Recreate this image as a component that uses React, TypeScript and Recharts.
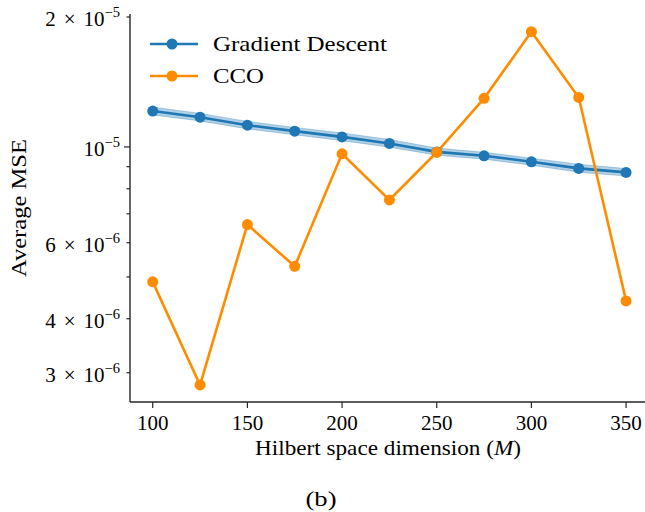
import { ComposedChart, Line, Area, XAxis, YAxis, Label } from "recharts";

// Hilbert space dimension M
const dims = [100, 125, 150, 175, 200, 225, 250, 275, 300, 325, 350];
// Gradient descent mean + shaded band
const gdMse = [1.211e-5, 1.172e-5, 1.123e-5, 1.088e-5, 1.055e-5, 1.019e-5, 0.974e-5, 0.954e-5, 0.924e-5, 0.892e-5, 0.873e-5];
const gdLow = [1.186e-5, 1.149e-5, 1.101e-5, 1.067e-5, 1.034e-5, 0.999e-5, 0.957e-5, 0.937e-5, 0.907e-5, 0.874e-5, 0.856e-5];
const gdHigh = [1.237e-5, 1.196e-5, 1.146e-5, 1.110e-5, 1.077e-5, 1.041e-5, 0.994e-5, 0.972e-5, 0.942e-5, 0.912e-5, 0.891e-5];
// CCO
const ccoMse = [4.87e-6, 2.81e-6, 6.61e-6, 5.29e-6, 9.64e-6, 7.54e-6, 9.72e-6, 1.296e-5, 1.849e-5, 1.302e-5, 4.40e-6];

const xTicks = [100, 150, 200, 250, 300, 350];
const yTicks = [3e-6, 4e-6, 5e-6, 6e-6, 7e-6, 8e-6, 9e-6, 1e-5, 2e-5];
// mantissa / exponent for the labelled ticks ("" = unlabelled minor tick)
const yTickMant = ["3", "4", "", "6", "", "", "", "1", "2"];
const yTickExp = ["−6", "−6", "", "−6", "", "", "", "−5", "−5"];

const data = dims.map((d, i) => ({ dim: d, gd: gdMse[i], band: [gdLow[i], gdHigh[i]], cco: ccoMse[i] }));

const FONT = '"Liberation Serif", "Times New Roman", serif';
const BLUE = "#1f77b4";
const ORANGE = "#ff8c00";
const AX = "#262626";
const LEFT = 130;
const BOTTOM = 402;

const YTick = ({ y, index }: any) => {
  const mant = yTickMant[index];
  const exp = yTickExp[index];
  const isMajor = yTicks[index] === 1e-5;
  return (
    <g>
      <line x1={LEFT - (isMajor ? 6 : 3.5)} x2={LEFT} y1={y} y2={y} stroke={AX} strokeWidth={1.2} />
      {exp && (
        <text x={120} y={y + 9} textAnchor="end" fontFamily={FONT} fontSize={21} fill="#000">
          {mant !== "1" && <tspan>{mant}</tspan>}
          {mant !== "1" && <tspan dx={8}>×</tspan>}
          <tspan dx={mant !== "1" ? 8 : 0}>10</tspan>
          <tspan dy={-9} fontSize={14.5}>{exp}</tspan>
        </text>
      )}
    </g>
  );
};

const XTick = ({ x, payload }: any) => (
  <g>
    <line x1={x} x2={x} y1={BOTTOM} y2={BOTTOM + 6} stroke={AX} strokeWidth={1.2} />
    <text x={x} y={430} textAnchor="middle" fontFamily={FONT} fontSize={21} fill="#000">{payload.value}</text>
  </g>
);

const XLabel = () => (
  <g>
    <text x={388} y={455} textAnchor="middle" fontFamily={FONT} fontSize={22} fill="#000" textLength={266} lengthAdjust="spacingAndGlyphs">
      Hilbert space dimension (<tspan fontStyle="italic">M</tspan>)
    </text>
    <text x={321} y={506} textAnchor="middle" fontFamily={FONT} fontSize={22} fill="#000" textLength={31} lengthAdjust="spacingAndGlyphs">(b)</text>
  </g>
);

const YLabel = () => (
  <text x={0} y={0} transform="translate(26, 208) rotate(-90)" textAnchor="middle" fontFamily={FONT} fontSize={22} fill="#000" textLength={138} lengthAdjust="spacingAndGlyphs">
    Average MSE
  </text>
);

const legendItems = [
  { name: "Gradient Descent", color: BLUE, width: 174 },
  { name: "CCO", color: ORANGE, width: 51 },
];

export default function App() {
  return (
    <div style={{ position: "fixed", left: 0, top: 0, width: 645, height: 512, background: "#fff" }}>
      <ComposedChart width={645} height={512} data={data} margin={{ top: 14, right: 0, bottom: 0, left: 0 }}>
        <XAxis xAxisId="top" orientation="top" dataKey="dim" type="number" domain={[88, 360]} height={0} tick={false} tickLine={false} axisLine={{ stroke: AX, strokeWidth: 1.4 }} allowDataOverflow />
        <XAxis dataKey="dim" type="number" domain={[88, 360]} ticks={xTicks} height={110} tick={<XTick />} tickLine={false} axisLine={{ stroke: AX, strokeWidth: 1.4 }} allowDataOverflow>
          <Label content={<XLabel />} />
        </XAxis>
        <YAxis type="number" scale="log" domain={[2.566e-6, 2.032e-5]} ticks={yTicks} width={LEFT} tick={<YTick />} tickLine={false} axisLine={{ stroke: AX, strokeWidth: 1.4 }} allowDataOverflow interval={0}>
          <Label content={<YLabel />} />
        </YAxis>
        <Area dataKey="band" fill={BLUE} fillOpacity={0.35} stroke={BLUE} strokeOpacity={0.3} strokeWidth={1} isAnimationActive={false} />
        <Line dataKey="gd" stroke={BLUE} strokeWidth={2.6} dot={{ r: 5.5, fill: BLUE, stroke: BLUE, strokeWidth: 0 }} isAnimationActive={false} />
        <Line dataKey="cco" stroke={ORANGE} strokeWidth={2.6} dot={{ r: 5.5, fill: ORANGE, stroke: ORANGE, strokeWidth: 0 }} isAnimationActive={false} />
      </ComposedChart>
      <svg width={300} height={100} style={{ position: "absolute", left: 140, top: 14 }}>
        {legendItems.map((it, i) => (
          <g key={it.name} transform={`translate(0, ${30 + i * 32})`}>
            <line x1={10} x2={58} y1={0} y2={0} stroke={it.color} strokeWidth={2.6} />
            <circle cx={32} cy={0} r={5.5} fill={it.color} />
            <text x={73} y={7} fontFamily={FONT} fontSize={21} fill="#000" textLength={it.width} lengthAdjust="spacingAndGlyphs">{it.name}</text>
          </g>
        ))}
      </svg>
    </div>
  );
}
